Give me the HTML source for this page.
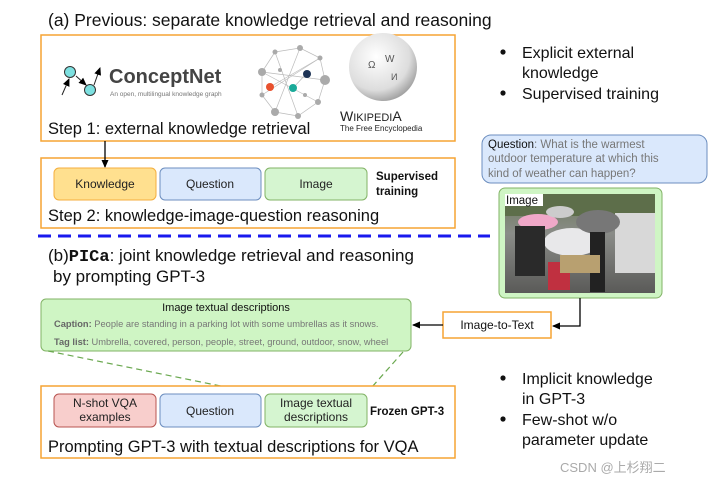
<!DOCTYPE html>
<html><head><meta charset="utf-8"><style>
html,body{margin:0;padding:0;background:#fff;width:710px;height:486px;overflow:hidden}
svg{display:block}
text{font-family:"Liberation Sans",sans-serif}
</style></head><body>
<svg width="710" height="486" viewBox="0 0 710 486" xmlns="http://www.w3.org/2000/svg">
<defs>
<marker id="ah" markerWidth="8" markerHeight="8" refX="7" refY="4" orient="auto" markerUnits="userSpaceOnUse"><path d="M0,0.5 L8,4 L0,7.5 Z" fill="#000"/></marker>
<radialGradient id="globe" cx="0.4" cy="0.35" r="0.7"><stop offset="0" stop-color="#fff"/><stop offset="0.7" stop-color="#ddd"/><stop offset="1" stop-color="#999"/></radialGradient>
<linearGradient id="photo" x1="0" y1="0" x2="0" y2="1"><stop offset="0" stop-color="#6c7a5a"/><stop offset="0.4" stop-color="#8a8c88"/><stop offset="1" stop-color="#5a5a58"/></linearGradient>
</defs>
<text x="48" y="26" font-size="17.5" fill="#111">(a) Previous: separate knowledge retrieval and reasoning</text>
<!-- box1 -->
<rect x="41" y="35" width="414" height="106" fill="#fff" stroke="#f5a433" stroke-width="1.5"/>
<!-- conceptnet logo -->
<line x1="62" y1="95" x2="69" y2="79" stroke="#222" marker-end="url(#ah)"/>
<line x1="76" y1="76" x2="86" y2="85" stroke="#222" marker-end="url(#ah)"/>
<line x1="94" y1="85" x2="100" y2="68" stroke="#222" marker-end="url(#ah)"/>
<circle cx="70" cy="72" r="5.5" fill="#7de0e0" stroke="#333"/>
<circle cx="90" cy="90" r="5.5" fill="#7de0e0" stroke="#333"/>
<text x="109" y="83" font-size="20" font-weight="bold" fill="#444">ConceptNet</text>
<text x="110" y="96" font-size="6.5" fill="#777">An open, multilingual knowledge graph</text>
<!-- network -->
<g stroke="#bbb" stroke-width="0.7" fill="none">
<polygon points="262,72 275,52 300,48 320,58 325,80 318,102 298,116 275,112 262,95"/>
<line x1="262" y1="72" x2="318" y2="102"/><line x1="275" y1="52" x2="298" y2="116"/><line x1="300" y1="48" x2="275" y2="112"/><line x1="320" y1="58" x2="262" y2="95"/><line x1="325" y1="80" x2="262" y2="72"/><line x1="270" y1="87" x2="320" y2="58"/><line x1="293" y1="88" x2="307" y2="73"/>
</g>
<g fill="#aaa"><circle cx="262" cy="72" r="4"/><circle cx="275" cy="52" r="2.5"/><circle cx="300" cy="48" r="3"/><circle cx="320" cy="58" r="2.5"/><circle cx="325" cy="80" r="5"/><circle cx="318" cy="102" r="3"/><circle cx="298" cy="116" r="3"/><circle cx="275" cy="112" r="4"/><circle cx="262" cy="95" r="2.5"/><circle cx="280" cy="70" r="2"/><circle cx="305" cy="95" r="2"/></g>
<circle cx="270" cy="87" r="4" fill="#e8512e"/><circle cx="293" cy="88" r="4" fill="#1aaa99"/><circle cx="307" cy="74" r="4" fill="#1d3355"/>
<!-- wikipedia -->
<circle cx="383" cy="67" r="34" fill="url(#globe)"/>
<text x="368" y="68" font-size="10" fill="#555" font-family="Liberation Serif,serif">Ω</text>
<text x="385" y="62" font-size="10" fill="#555" font-family="Liberation Serif,serif">W</text>
<text x="391" y="80" font-size="9" fill="#555">И</text>
<text x="340" y="121" font-size="14" fill="#222" font-family="Liberation Serif,serif">W<tspan font-size="11">IKIPEDI</tspan>A</text>
<text x="340" y="131" font-size="8" fill="#222" font-family="Liberation Serif,serif">The Free Encyclopedia</text>
<text x="48" y="134" font-size="16.5" fill="#111">Step 1: external knowledge retrieval</text>
<!-- box2 -->
<rect x="41" y="158" width="414" height="70" fill="#fff" stroke="#f5a433" stroke-width="1.5"/>
<line x1="105" y1="141" x2="105" y2="167" stroke="#000" stroke-width="1.3" marker-end="url(#ah)"/>
<rect x="54" y="168" width="102" height="32" rx="5" fill="#ffe08f" stroke="#f4ae3d"/>
<text x="105" y="188" font-size="12" text-anchor="middle" fill="#222">Knowledge</text>
<rect x="160" y="168" width="101" height="32" rx="5" fill="#dae8fc" stroke="#6c8ebf"/>
<text x="210" y="188" font-size="12" text-anchor="middle" fill="#222">Question</text>
<rect x="265" y="168" width="102" height="32" rx="5" fill="#d5f5d0" stroke="#82b366"/>
<text x="316" y="188" font-size="12" text-anchor="middle" fill="#222">Image</text>
<text x="376" y="180" font-size="11.5" font-weight="bold" fill="#111">Supervised</text>
<text x="376" y="195" font-size="11.5" font-weight="bold" fill="#111">training</text>
<text x="48" y="221" font-size="16.5" fill="#111">Step 2: knowledge-image-question reasoning</text>
<!-- blue dashed -->
<line x1="38" y1="236" x2="490" y2="236" stroke="#1a1aee" stroke-width="3" stroke-dasharray="13,7"/>
<text x="48" y="261" font-size="17" fill="#111">(b)<tspan font-family="Liberation Mono,monospace" font-weight="bold">PICa</tspan>: joint knowledge retrieval and reasoning</text>
<text x="53" y="282" font-size="17" fill="#111">by prompting GPT-3</text>
<!-- image textual descriptions -->
<rect x="41" y="299" width="370" height="52" rx="5" fill="#cff5c4" stroke="#82b366"/>
<text x="226" y="311" font-size="11" text-anchor="middle" fill="#111">Image textual descriptions</text>
<text x="54" y="327" font-size="9.3" fill="#777"><tspan font-weight="bold" fill="#666">Caption:</tspan> People are standing in a parking lot with some umbrellas as it snows.</text>
<text x="54" y="345" font-size="9.3" fill="#777"><tspan font-weight="bold" fill="#666">Tag list:</tspan> Umbrella, covered, person, people, street, ground, outdoor, snow, wheel</text>
<line x1="48" y1="351" x2="270" y2="396" stroke="#6aa84f" stroke-width="1.2" stroke-dasharray="6,4"/>
<line x1="403" y1="352" x2="364" y2="396" stroke="#6aa84f" stroke-width="1.2" stroke-dasharray="6,4"/>
<!-- box3 -->
<rect x="41" y="386" width="414" height="72" fill="#fff" stroke="#f5a433" stroke-width="1.5"/>
<rect x="54" y="394" width="102" height="33" rx="5" fill="#f8cecc" stroke="#b85450"/>
<text x="105" y="407" font-size="12" text-anchor="middle" fill="#222">N-shot VQA</text>
<text x="105" y="421" font-size="12" text-anchor="middle" fill="#222">examples</text>
<rect x="160" y="394" width="101" height="33" rx="5" fill="#dae8fc" stroke="#6c8ebf"/>
<text x="210" y="415" font-size="12" text-anchor="middle" fill="#222">Question</text>
<rect x="265" y="394" width="102" height="33" rx="5" fill="#d5f5d0" stroke="#82b366"/>
<text x="316" y="407" font-size="12" text-anchor="middle" fill="#222">Image textual</text>
<text x="316" y="421" font-size="12" text-anchor="middle" fill="#222">descriptions</text>
<text x="370" y="415" font-size="11.5" font-weight="bold" fill="#111">Frozen GPT-3</text>
<text x="48" y="452" font-size="16.5" fill="#111">Prompting GPT-3 with textual descriptions for VQA</text>
<!-- right side -->
<g font-size="16" fill="#111">
<circle cx="503" cy="52" r="2.6" fill="#111"/><text x="522" y="58">Explicit external</text><text x="522" y="78">knowledge</text>
<circle cx="503" cy="93" r="2.6" fill="#111"/><text x="522" y="99">Supervised training</text>
<circle cx="503" cy="378" r="2.6" fill="#111"/><text x="522" y="384">Implicit knowledge</text><text x="522" y="404">in GPT-3</text>
<circle cx="503" cy="419" r="2.6" fill="#111"/><text x="522" y="425">Few-shot w/o</text><text x="522" y="445">parameter update</text>
</g>
<rect x="482" y="135" width="225" height="48" rx="9" fill="#dae8fc" stroke="#6c8ebf"/>
<text x="488" y="148" font-size="11.5" fill="#777"><tspan fill="#111">Question</tspan>: What is the warmest</text>
<text x="488" y="162" font-size="11.5" fill="#777">outdoor temperature at which this</text>
<text x="488" y="177" font-size="11.5" fill="#777">kind of weather can happen?</text>
<rect x="499" y="188" width="163" height="110" rx="6" fill="#cff5c4" stroke="#82b366"/>
<rect x="505" y="194" width="150" height="99" fill="url(#photo)"/>
<rect x="505" y="194" width="150" height="22" fill="#5d6e4a"/>
<rect x="615" y="213" width="40" height="60" fill="#d8d8d8"/>
<ellipse cx="538" cy="222" rx="20" ry="8" fill="#f0a8c8"/>
<ellipse cx="572" cy="242" rx="28" ry="14" fill="#e8e8ea"/>
<ellipse cx="598" cy="222" rx="22" ry="12" fill="#777"/>
<ellipse cx="560" cy="212" rx="14" ry="6" fill="#ccc"/>
<rect x="515" y="226" width="30" height="50" fill="#2a2a2a"/>
<rect x="590" y="232" width="15" height="60" fill="#222"/>
<rect x="548" y="262" width="22" height="28" fill="#c03040"/>
<rect x="560" y="255" width="40" height="18" fill="#b8a070"/>
<rect x="505" y="194" width="38" height="12" fill="#fff"/>
<text x="506" y="204" font-size="11.5" fill="#111">Image</text>
<!-- image to text -->
<polyline points="580,298 580,326 553,326" fill="none" stroke="#000" stroke-width="1.3" marker-end="url(#ah)"/>
<rect x="443" y="312" width="108" height="26" fill="#fff" stroke="#f5a433" stroke-width="1.5"/>
<text x="497" y="329" font-size="12" text-anchor="middle" fill="#111">Image-to-Text</text>
<line x1="443" y1="325" x2="413" y2="325" stroke="#000" stroke-width="1.3" marker-end="url(#ah)"/>
<text x="560" y="472" font-size="13" fill="#aaa" font-family="Liberation Sans,Noto Sans CJK SC,sans-serif">CSDN @上杉翔二</text>
</svg>
</body></html>
